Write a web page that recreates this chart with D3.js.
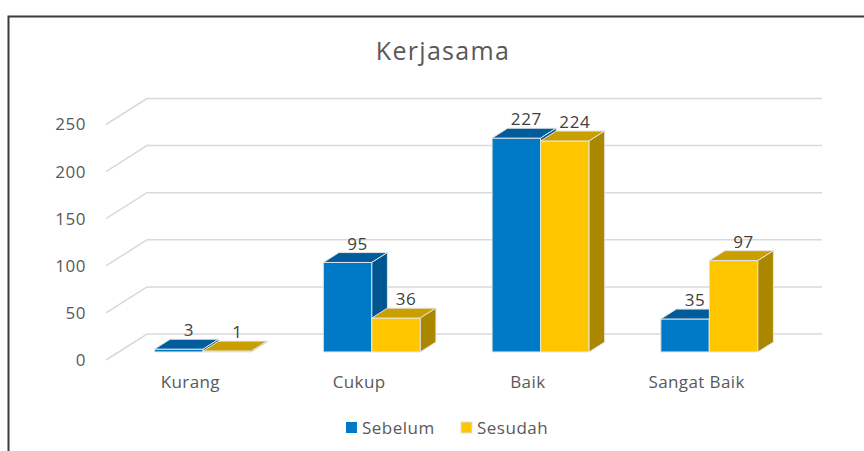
<!DOCTYPE html>
<html lang="id">
<head>
<meta charset="UTF-8">
<title>Kerjasama</title>
<style>
  body { margin: 0; background: #fff; }
  svg { display: block; font-family: "Open Sans", sans-serif; }
</style>
</head>
<body>
<svg width="864" height="451"></svg>
<script src="https://cdn.jsdelivr.net/npm/d3@7/dist/d3.min.js"></script>
<script>
// Data

const categories = ["Kurang", "Cukup", "Baik", "Sangat Baik"];
const series = ["Sebelum", "Sesudah"];
const sebelum = [3, 95, 227, 35];
const sesudah = [1, 36, 224, 97];
const ticks = [0, 50, 100, 150, 200, 250];

// Colors (front, top, side)

const COLORS = {
  Sebelum: { front: "#0079C6", top: "#005C9B", side: "#005690" },
  Sesudah: { front: "#FFC600", top: "#C9A000", side: "#AB8700" }
};

// Layout

const svg = d3.select("svg");
const floorLeft = 106, floorRight = 781;
const depth = { dx: 41, dy: -26 };      // wall depth
const barT0 = 0.31, barT1 = 0.69;        // bar position within depth

const x = d3.scaleBand().domain(categories).range([floorLeft, floorRight]);
const xs = d3.scaleBand().domain(series).range([0, x.bandwidth()]).paddingOuter(0.74);
const y = d3.scaleLinear().domain([0, 250]).range([360, 124.5]);

// Frame

svg.append("path")
  .attr("d", "M8.5,451 V16.5 H864")
  .attr("fill", "none")
  .attr("stroke", "#3c3c3c")
  .attr("stroke-width", 2);

// Title

svg.append("text")
  .attr("x", 443).attr("y", 60)
  .attr("text-anchor", "middle")
  .attr("fill", "#595959")
  .attr("font-size", 25)
  .attr("letter-spacing", 1.3)
  .text("Kerjasama");

// Gridlines (side wall + back wall)

svg.append("g")
  .selectAll("path")
  .data(ticks)
  .join("path")
    .attr("d", d => `M${floorLeft},${y(d)} L${floorLeft + depth.dx},${y(d) + depth.dy} L${floorRight + depth.dx},${y(d) + depth.dy}`)
    .attr("fill", "none")
    .attr("stroke", "#d9d9d9")
    .attr("stroke-width", 1.5);

// Y tick labels

svg.append("g")
  .selectAll("text")
  .data(ticks)
  .join("text")
    .attr("x", 86)
    .attr("y", d => y(d))
    .attr("dy", "0.35em")
    .attr("text-anchor", "end")
    .attr("fill", "#595959")
    .attr("font-size", 17)
    .attr("letter-spacing", 0.5)
    .text(d => d);

// Bars

const bars = [];
categories.forEach((c, i) => {
  bars.push({ cat: c, s: "Sebelum", v: sebelum[i] });
  bars.push({ cat: c, s: "Sesudah", v: sesudah[i] });
});

const ox = depth.dx * barT0, oy = depth.dy * barT0;
const bdx = depth.dx * (barT1 - barT0), bdy = depth.dy * (barT1 - barT0);

const barG = svg.append("g");
bars.forEach(b => {
  const x0 = x(b.cat) + xs(b.s) + ox;
  const x1 = x0 + xs.bandwidth();
  const yb = y(0) + oy;
  const yt = y(b.v) + oy;
  const c = COLORS[b.s];
  const g = barG.append("g")
    .attr("stroke", "#e4e4e4")
    .attr("stroke-width", 1)
    .attr("stroke-linejoin", "round");
  g.append("path")
    .attr("d", `M${x0},${yb} V${yt} H${x1} V${yb} Z`)
    .attr("fill", c.front);
  g.append("path")
    .attr("d", `M${x0},${yt} L${x0 + bdx},${yt + bdy} H${x1 + bdx} L${x1},${yt} Z`)
    .attr("fill", c.top);
  g.append("path")
    .attr("d", `M${x1},${yb} V${yt} L${x1 + bdx},${yt + bdy} V${yb + bdy} Z`)
    .attr("fill", c.side);
  b.lx = (x0 + x1) / 2 + 10;
  b.ly = yt + bdy - 3;
});

// Data labels

svg.append("g")
  .selectAll("text")
  .data(bars)
  .join("text")
    .attr("x", d => d.lx)
    .attr("y", d => d.ly)
    .attr("text-anchor", "middle")
    .attr("fill", "#404040")
    .attr("font-size", 17)
    .attr("letter-spacing", 0.6)
    .text(d => d.v);

// Category labels

svg.append("g")
  .selectAll("text")
  .data(categories)
  .join("text")
    .attr("x", d => x(d) + x.bandwidth() / 2)
    .attr("y", 388)
    .attr("text-anchor", "middle")
    .attr("fill", "#595959")
    .attr("font-size", 17)
    .attr("letter-spacing", 0.4)
    .text(d => d);

// Legend

const legendX = [346, 461];
const legend = svg.append("g")
  .selectAll("g")
  .data(series)
  .join("g")
    .attr("transform", (d, i) => `translate(${legendX[i]},422)`);

legend.append("rect")
  .attr("width", 11).attr("height", 11)
  .attr("fill", d => COLORS[d].front)
  .attr("stroke", d => d === "Sesudah" ? "#e0e0e0" : "none");

legend.append("text")
  .attr("x", 16).attr("y", 11.5)
  .attr("fill", "#595959")
  .attr("font-size", 17)
  .attr("letter-spacing", 0.5)
  .text(d => d);
</script>
</body>
</html>
